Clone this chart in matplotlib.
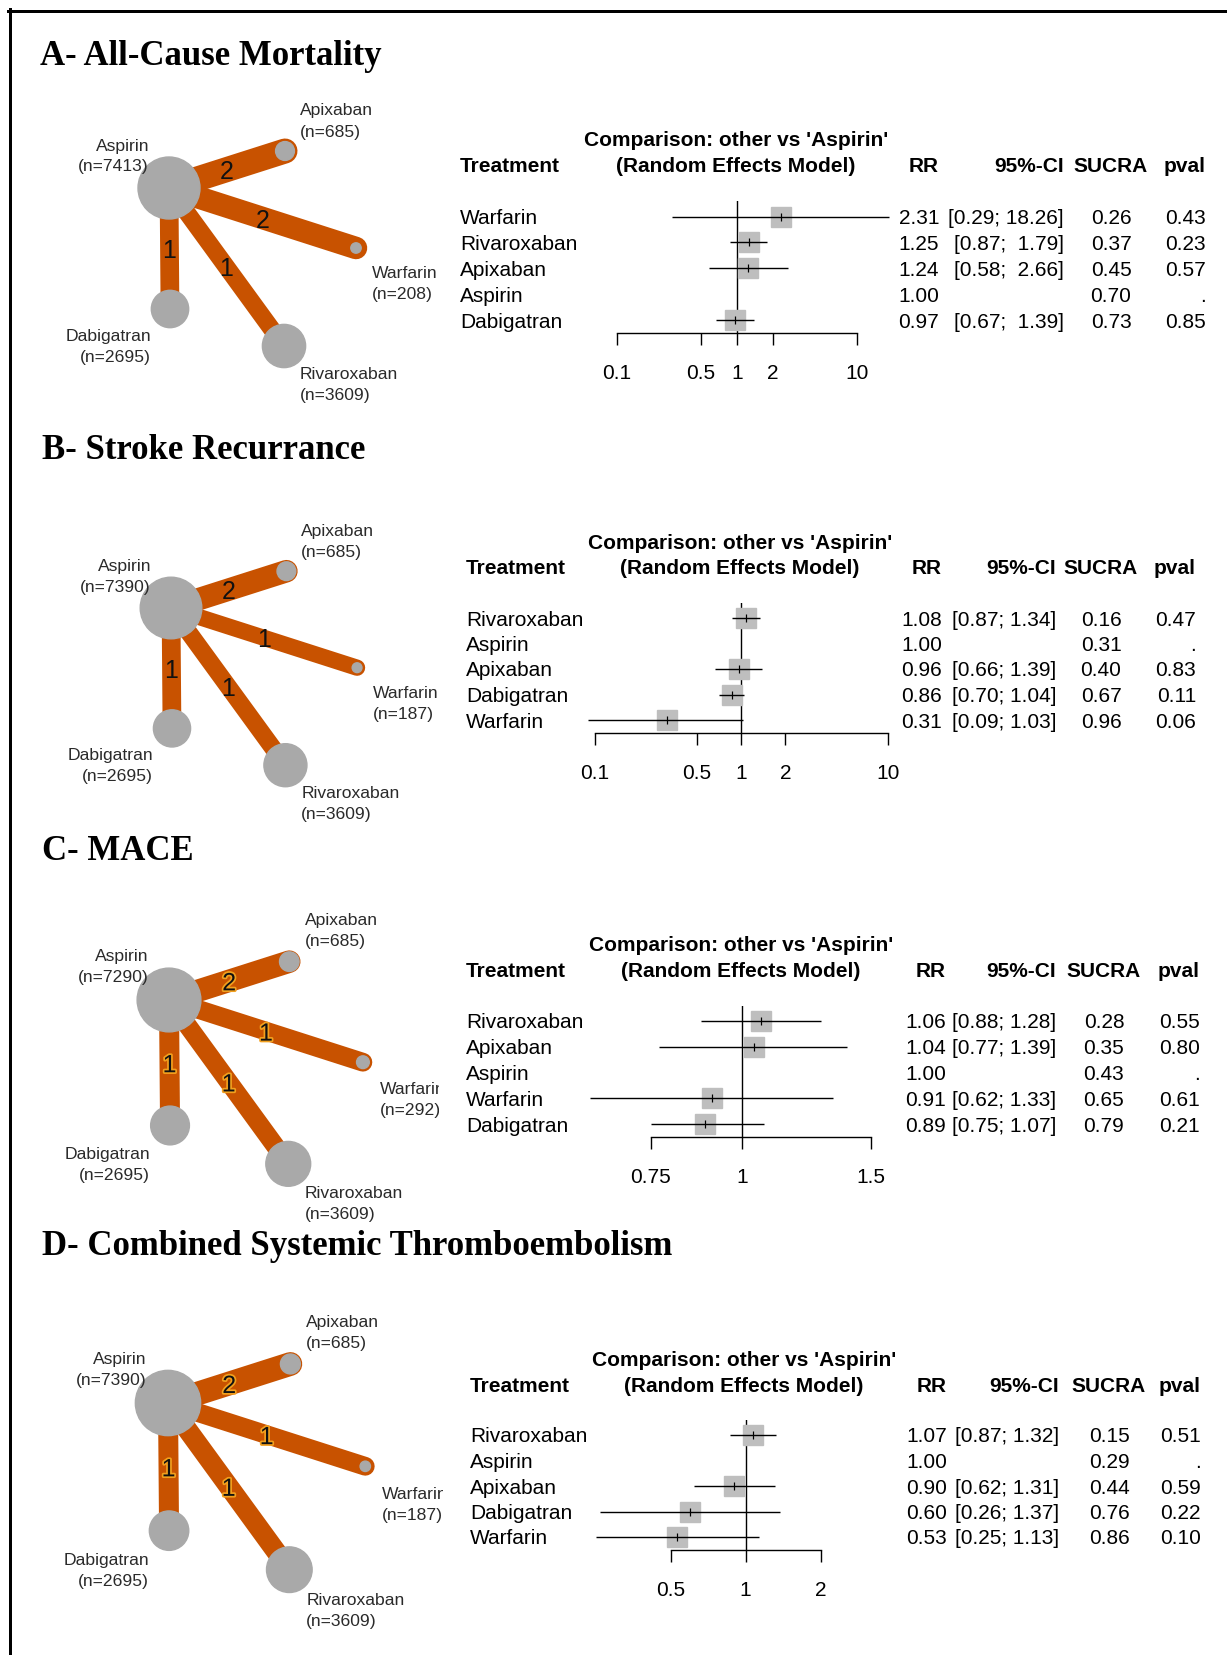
import matplotlib
matplotlib.use("Agg")
import matplotlib.pyplot as plt
import matplotlib.transforms as mtransforms
import matplotlib.patheffects as pe
from matplotlib.patches import Circle
from matplotlib.lines import Line2D
from matplotlib.ticker import NullLocator
import numpy as np

W, H = 1227, 1655
DPI = 100
PT = 72 / DPI  # points per pixel

plt.rcParams['font.family'] = ['Liberation Sans', 'DejaVu Sans']

nan = np.nan

# ---------------- data ----------------
titles = ["A- All-Cause Mortality", "B- Stroke Recurrance", "C- MACE",
          "D- Combined Systemic Thromboembolism"]

hub = "Aspirin"
net_nodes = ["Aspirin", "Apixaban", "Warfarin", "Dabigatran", "Rivaroxaban"]
net_edges = ["Apixaban", "Warfarin", "Dabigatran", "Rivaroxaban"]  # each vs Aspirin

# patients per node (order of net_nodes)
a_n = [7413, 685, 208, 2695, 3609]
b_n = [7390, 685, 187, 2695, 3609]
c_n = [7290, 685, 292, 2695, 3609]
d_n = [7390, 685, 187, 2695, 3609]
# number of studies per edge (order of net_edges)
a_studies = [2, 2, 1, 1]
b_studies = [2, 1, 1, 1]
c_studies = [2, 1, 1, 1]
d_studies = [2, 1, 1, 1]

# forest plots, other vs 'Aspirin'
a_treat = ["Warfarin", "Rivaroxaban", "Apixaban", "Aspirin", "Dabigatran"]
a_rr = [2.31, 1.25, 1.24, 1.00, 0.97]
a_lo = [0.29, 0.87, 0.58, nan, 0.67]
a_hi = [18.26, 1.79, 2.66, nan, 1.39]
a_sucra = [0.26, 0.37, 0.45, 0.70, 0.73]
a_pval = [0.43, 0.23, 0.57, nan, 0.85]
a_ticks = [0.1, 0.5, 1, 2, 10]
a_ticklabels = ["0.1", "0.5", "1", "2", "10"]

b_treat = ["Rivaroxaban", "Aspirin", "Apixaban", "Dabigatran", "Warfarin"]
b_rr = [1.08, 1.00, 0.96, 0.86, 0.31]
b_lo = [0.87, nan, 0.66, 0.70, 0.09]
b_hi = [1.34, nan, 1.39, 1.04, 1.03]
b_sucra = [0.16, 0.31, 0.40, 0.67, 0.96]
b_pval = [0.47, nan, 0.83, 0.11, 0.06]
b_ticks = [0.1, 0.5, 1, 2, 10]
b_ticklabels = ["0.1", "0.5", "1", "2", "10"]

c_treat = ["Rivaroxaban", "Apixaban", "Aspirin", "Warfarin", "Dabigatran"]
c_rr = [1.06, 1.04, 1.00, 0.91, 0.89]
c_lo = [0.88, 0.77, nan, 0.62, 0.75]
c_hi = [1.28, 1.39, nan, 1.33, 1.07]
c_sucra = [0.28, 0.35, 0.43, 0.65, 0.79]
c_pval = [0.55, 0.80, nan, 0.61, 0.21]
c_ticks = [0.75, 1, 1.5]
c_ticklabels = ["0.75", "1", "1.5"]

d_treat = ["Rivaroxaban", "Aspirin", "Apixaban", "Dabigatran", "Warfarin"]
d_rr = [1.07, 1.00, 0.90, 0.60, 0.53]
d_lo = [0.87, nan, 0.62, 0.26, 0.25]
d_hi = [1.32, nan, 1.31, 1.37, 1.13]
d_sucra = [0.15, 0.29, 0.44, 0.76, 0.86]
d_pval = [0.51, nan, 0.59, 0.22, 0.10]
d_ticks = [0.5, 1, 2]
d_ticklabels = ["0.5", "1", "2"]

# ---------------- layout / style ----------------
EDGE = "#C85200"
NODE = "#A9A9A9"
SQUARE = "#BEBEBE"
LABEL = "#2A2A2A"

# network layout (pixels, relative to hub) and label placement
LAYOUT = {"Aspirin": (0, 0), "Apixaban": (116, -37), "Warfarin": (187, 60),
          "Dabigatran": (1, 121), "Rivaroxaban": (115, 158)}
LABEL_POS = {"Aspirin": (-20, -33, "right"), "Apixaban": (15, -31, "left"),
             "Warfarin": (16, 35, "left"), "Dabigatran": (-19, 36.5, "right"),
             "Rivaroxaban": (16, 37.5, "left")}
R0 = 31 / np.sqrt(7413)
EDGE_SCALE = 1.25

geo = [
    dict(title_xy=(40, 65), net_y=(80, 420), net_right=445, hub=(169, 188), scale=1.0,
         edge_w=[20, 18, 15, 14], halo=False,
         row0=216.5, dy=25.9, axis_px=(616.6, 857.4),
         treat_x=460, comp_x=736, rr_x=939, ci_x=1064, sucra_x=1111, pval_x=1206),
    dict(title_xy=(42, 459), net_y=(470, 830), net_right=445, hub=(171, 608), scale=0.995,
         edge_w=[18, 13, 15, 14], halo=False,
         row0=618, dy=25.5, axis_px=(594.5, 888),
         treat_x=466, comp_x=740, rr_x=942, ci_x=1056, sucra_x=1101, pval_x=1196),
    dict(title_xy=(42, 860), net_y=(870, 1225), net_right=439, hub=(169, 1000), scale=1.037,
         edge_w=[18, 15, 16, 15], halo=True,
         row0=1021, dy=25.75, axis_px=(650.5, 871),
         treat_x=466, comp_x=741, rr_x=946, ci_x=1056, sucra_x=1104, pval_x=1200),
    dict(title_xy=(42, 1255), net_y=(1265, 1655), net_right=443, hub=(168, 1403), scale=1.055,
         edge_w=[19, 15, 16, 16], halo=True,
         row0=1435, dy=25.5, axis_px=(670.5, 820.5),
         treat_x=470, comp_x=744, rr_x=947, ci_x=1059, sucra_x=1109, pval_x=1201),
]

panels = [
    (a_n, a_studies, a_treat, a_rr, a_lo, a_hi, a_sucra, a_pval, a_ticks, a_ticklabels),
    (b_n, b_studies, b_treat, b_rr, b_lo, b_hi, b_sucra, b_pval, b_ticks, b_ticklabels),
    (c_n, c_studies, c_treat, c_rr, c_lo, c_hi, c_sucra, c_pval, c_ticks, c_ticklabels),
    (d_n, d_studies, d_treat, d_rr, d_lo, d_hi, d_sucra, d_pval, d_ticks, d_ticklabels),
]

fig = plt.figure(figsize=(W / DPI, H / DPI), dpi=DPI)
fpx = mtransforms.Affine2D().scale(1 / W, 1 / H) + fig.transFigure


def rect_px(x0, ytop, x1, ybot):
    return [x0 / W, 1 - ybot / H, (x1 - x0) / W, (ybot - ytop) / H]


def draw_network(n_vals, studies, g):
    ytop, ybot = g["net_y"]
    right = g["net_right"]
    ax = fig.add_axes(rect_px(0, ytop, right, ybot))
    ax.set_xlim(0, right)
    ax.set_ylim(ybot, ytop)
    ax.axis("off")
    hx, hy = g["hub"]
    sc = g["scale"]
    pos = {k: (hx + sc * dx, hy + sc * dy) for k, (dx, dy) in LAYOUT.items()}
    for name, k, w in zip(net_edges, studies, g["edge_w"]):
        (x0, y0), (x1, y1) = pos[hub], pos[name]
        ax.plot([x0, x1], [y0, y1], color=EDGE, lw=w * EDGE_SCALE * PT,
                solid_capstyle="round", zorder=1)
        t = ax.text((x0 + x1) / 2, (y0 + y1) / 2, str(k), ha="center", va="center_baseline",
                    fontsize=18, color="#111111", zorder=4)
        if g["halo"]:
            t.set_path_effects([pe.withStroke(linewidth=2.5, foreground="#F2A01E")])
    for name, n in zip(net_nodes, n_vals):
        x, y = pos[name]
        ax.add_patch(Circle((x, y), R0 * sc * np.sqrt(n), color=NODE, zorder=2))
        dx, dy, ha = LABEL_POS[name]
        lx, ly = x + sc * dx, y + sc * dy
        ax.text(lx, ly - 10.5, name, ha=ha, va="center_baseline", fontsize=12.6,
                color=LABEL, zorder=3, clip_on=True)
        ax.text(lx, ly + 10.5, f"(n={n})", ha=ha, va="center_baseline", fontsize=12.6,
                color=LABEL, zorder=3, clip_on=True)


def draw_forest(treat, rr, lo, hi, sucra, pval, ticks, ticklabels, g):
    n = len(treat)
    r0, dy = g["row0"], g["dy"]
    top = r0 - 0.6 * dy
    bot = r0 + (n - 0.5) * dy
    xa, xb = g["axis_px"]
    ax = fig.add_axes(rect_px(xa, top, xb, bot))
    ax.patch.set_alpha(0)
    ax.set_xscale("log")
    ax.set_xlim(ticks[0], ticks[-1])
    ax.set_ylim(n - 0.5, -0.6)
    for s in ["top", "left", "right"]:
        ax.spines[s].set_visible(False)
    ax.spines["bottom"].set_linewidth(1.4 * PT)
    ax.set_yticks([])
    ax.set_xticks(ticks, labels=ticklabels)
    ax.xaxis.set_minor_locator(NullLocator())
    ax.tick_params(axis="x", direction="out", length=12 * PT, width=1.4 * PT,
                   labelsize=15, pad=14)

    rows = np.arange(n)
    rr = np.array(rr)
    lo = np.array(lo)
    hi = np.array(hi)
    has_ci = ~np.isnan(lo)

    ax.axvline(1, color="black", lw=1.4 * PT, zorder=1)
    ax.plot(rr[has_ci], rows[has_ci], "s", ms=20 * PT, color=SQUARE, mec=SQUARE,
            zorder=2, clip_on=False)
    ax.hlines(rows[has_ci], lo[has_ci], hi[has_ci], color="black", lw=1.4 * PT,
              zorder=3, clip_on=False)
    ax.plot(rr[has_ci], rows[has_ci], "|", ms=8 * PT, mew=1.2 * PT, color="black",
            zorder=4, clip_on=False)

    tr = mtransforms.blended_transform_factory(fpx, ax.transData)
    kw = dict(transform=tr, va="center_baseline", fontsize=15, clip_on=False)
    bold = dict(kw, fontweight="bold")
    ax.text(g["comp_x"], -3, "Comparison: other vs 'Aspirin'", ha="center", **bold)
    ax.text(g["treat_x"], -2, "Treatment", ha="left", **bold)
    ax.text(g["comp_x"], -2, "(Random Effects Model)", ha="center", **bold)
    ax.text(g["rr_x"], -2, "RR", ha="right", **bold)
    ax.text(g["ci_x"], -2, "95%-CI", ha="right", **bold)
    ax.text(g["sucra_x"], -2, "SUCRA", ha="center", **bold)
    ax.text(g["pval_x"], -2, "pval", ha="right", **bold)

    hw = max(len(f"{v:.2f}") for v in hi[has_ci])
    for i in rows:
        ax.text(g["treat_x"], i, treat[i], ha="left", **kw)
        ax.text(g["rr_x"], i, f"{rr[i]:.2f}", ha="right", **kw)
        if has_ci[i]:
            ci = f"[{lo[i]:.2f}; " + f"{hi[i]:.2f}".rjust(hw) + "]"
            ax.text(g["ci_x"], i, ci, ha="right", **kw)
        ax.text(g["sucra_x"], i, f"{sucra[i]:.2f}", ha="center", **kw)
        pv = "." if np.isnan(pval[i]) else f"{pval[i]:.2f}"
        ax.text(g["pval_x"], i, pv, ha="right", **kw)


for title, p, g in zip(titles, panels, geo):
    n_vals, studies, treat, rr, lo, hi, sucra, pval, ticks, ticklabels = p
    fig.text(g["title_xy"][0] / W, 1 - g["title_xy"][1] / H, title, ha="left", va="baseline",
             fontsize=25, fontweight="bold", family=["Liberation Serif", "DejaVu Serif"])
    draw_network(n_vals, studies, g)
    draw_forest(treat, rr, lo, hi, sucra, pval, ticks, ticklabels, g)

# outer frame (top and left edges only are visible in the original)
fig.add_artist(Line2D([8 / W, 1], [1 - 10.5 / H] * 2, transform=fig.transFigure,
                      color="black", lw=3 * PT))
fig.add_artist(Line2D([9.5 / W] * 2, [0, 1 - 9 / H], transform=fig.transFigure,
                      color="black", lw=3 * PT))

fig.savefig("out.png", dpi=DPI)
